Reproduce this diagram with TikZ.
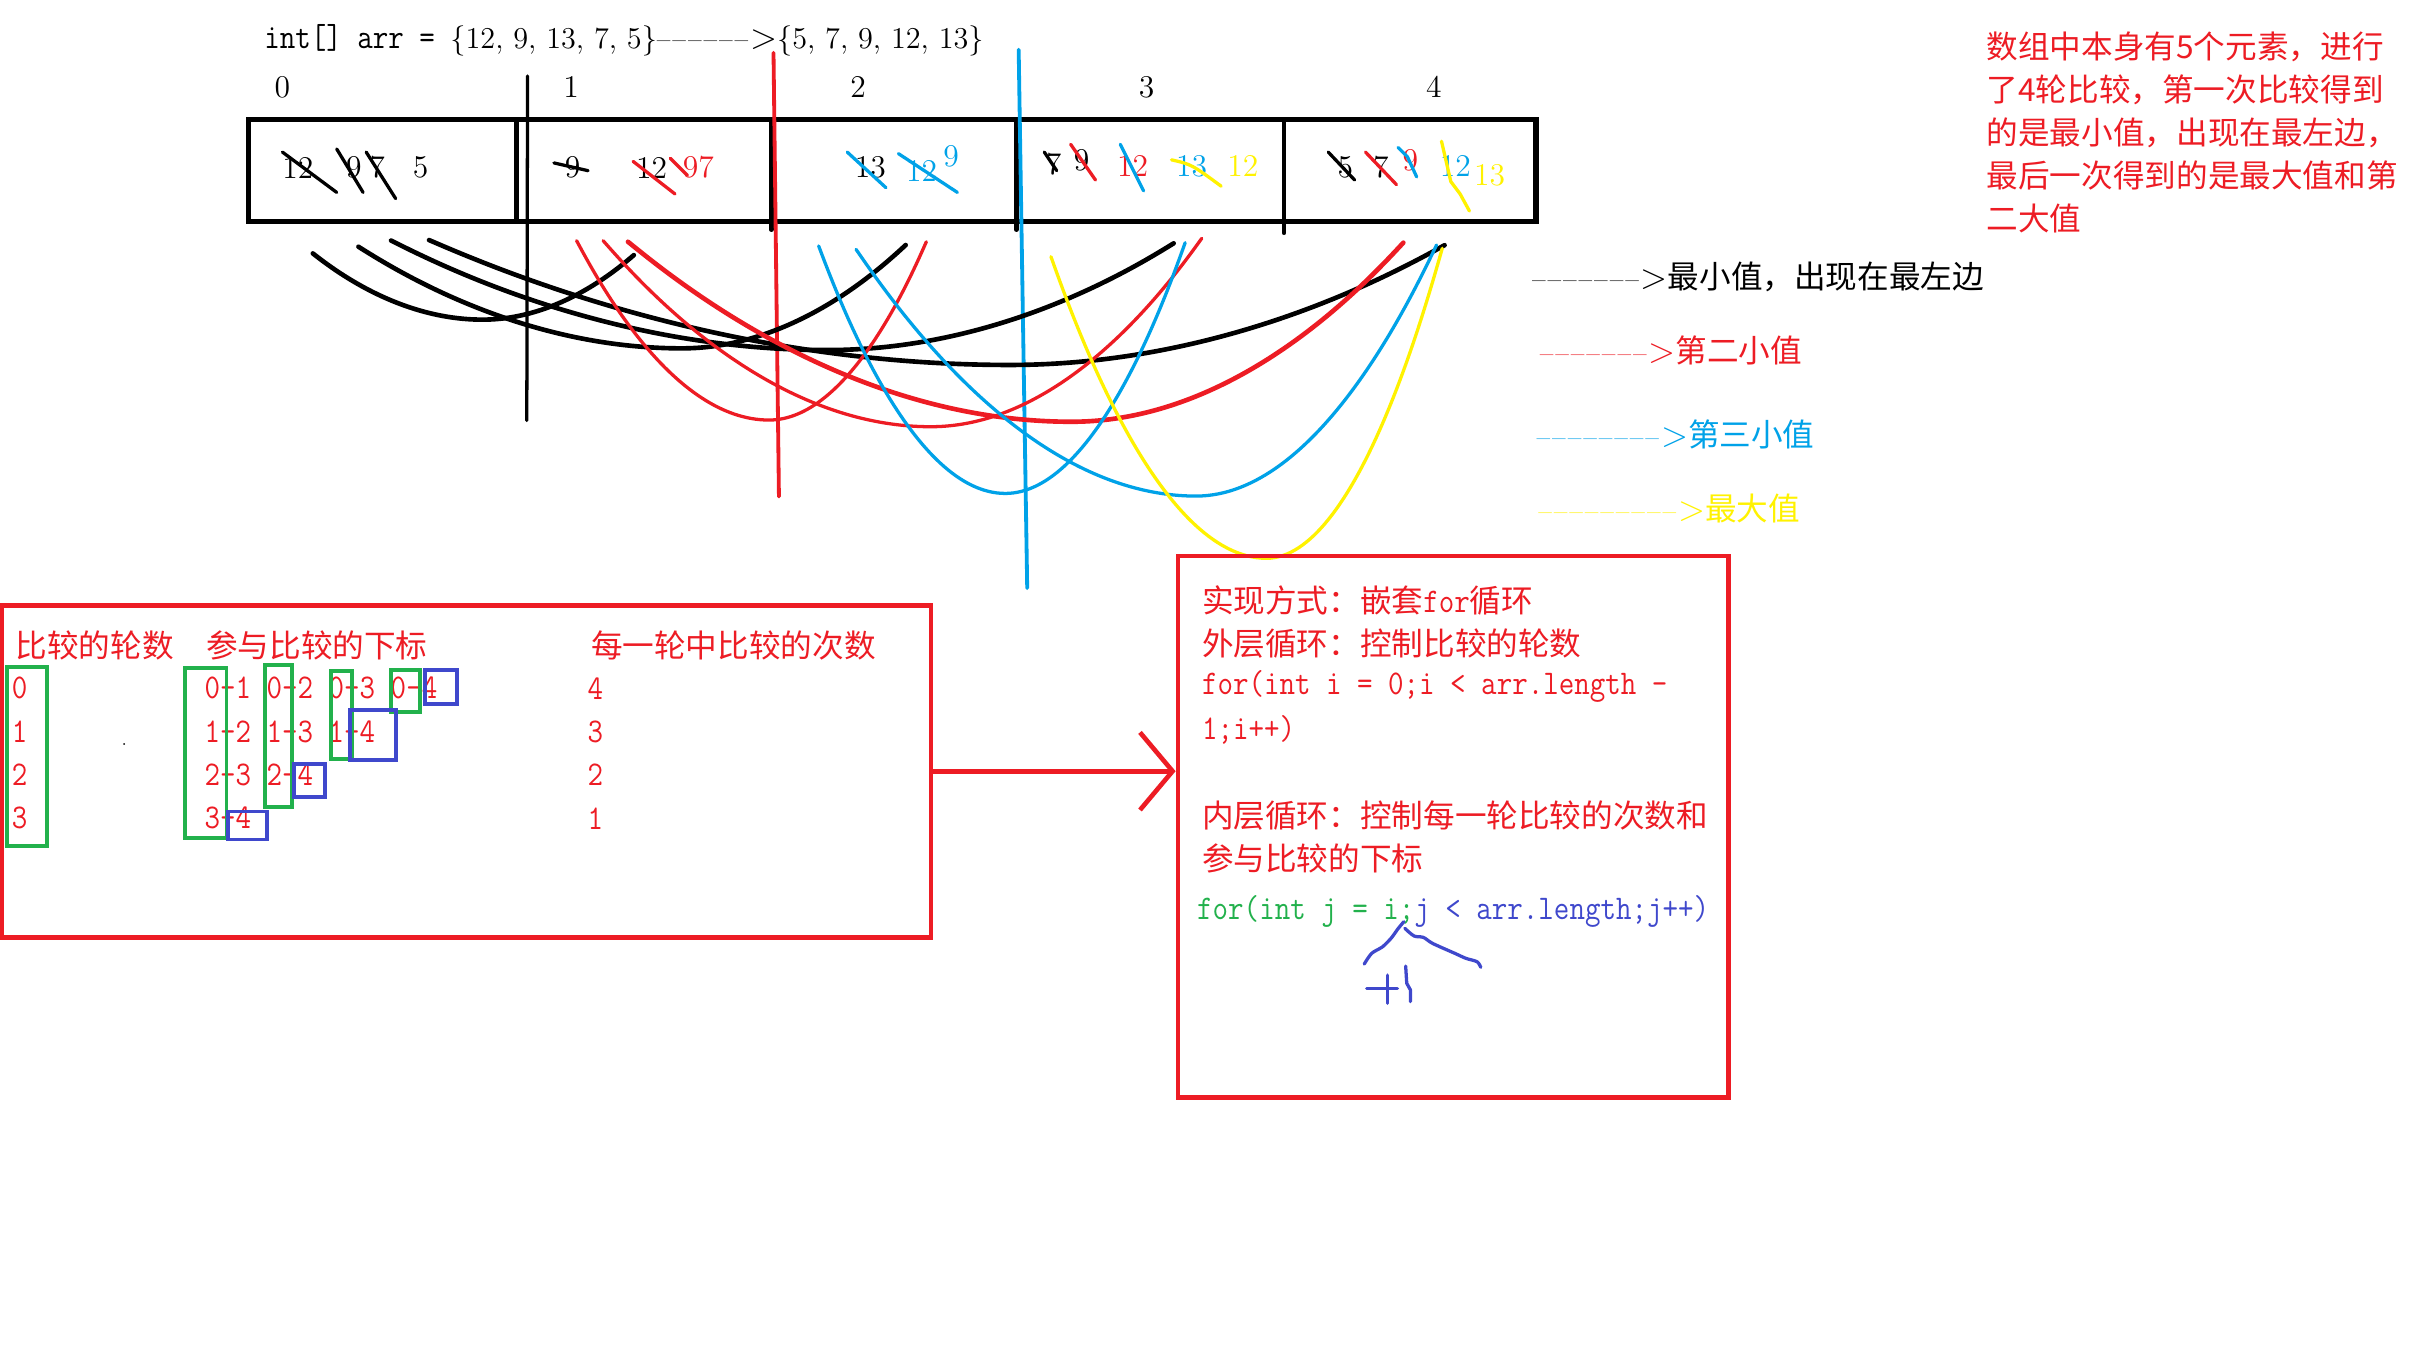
\documentclass[tikz,border=0pt]{standalone}
\usepackage{fontspec}
\usepackage{tikz}
\usetikzlibrary{arrows.meta, positioning, calc}
\newfontfamily\zhfont{Noto Sans CJK SC}
\newfontfamily\codefont[FakeStretch=0.87]{Latin Modern Mono}
\definecolor{paintred}{HTML}{ED1C24}
\definecolor{paintblue}{HTML}{00A2E8}
\definecolor{paintyellow}{HTML}{FFF200}
\definecolor{paintgreen}{HTML}{22B14C}
\definecolor{paintindigo}{HTML}{3F48CC}
\newcommand\zhsize{\fontsize{11.6}{15.8}\selectfont}
\newcommand\asc[1]{{\codefont\fontsize{12.7}{15.8}\selectfont #1}}
\newcommand\dashrun[1]{{\rmfamily\fontsize{10}{12}\selectfont\foreach\k in {1,...,#1}{--\kern0.7pt}\fontsize{13}{13}\selectfont>}}

\begin{document}
\begin{tikzpicture}[
    x=0.02cm, y=-0.02cm,
    txt/.style={inner sep=0pt, font=\fontsize{11.6}{14}\selectfont},
    zh/.style={inner sep=0pt, anchor=west, font=\zhfont\zhsize},
    ttline/.style={inner sep=0pt, anchor=west, font=\codefont\fontsize{12.7}{15.8}\selectfont},
    pen/.style={line width=1.2pt, line cap=round, line join=round},
    fatpen/.style={line width=1.7pt, line cap=round, line join=round},
    redframe/.style={draw=paintred, line width=1.7pt, inner sep=0pt},
    greenbox/.style={draw=paintgreen, line width=1.4pt},
    bluebox/.style={draw=paintindigo, line width=1.4pt},
]
\path[use as bounding box, fill=white] (0,0) rectangle (1568,873);

% array and its indices
\node[txt, anchor=west, font=\fontsize{11.1}{14}\selectfont] (title) at (170,26) {\asc{int[] arr = }\{12, 9, 13, 7, 5\}\dashrun{6}\{5, 7, 9, 12, 13\}};
\foreach \i/\x in {0/182,1/368,2/553,3/739,4/924}
    \node[txt] (idx\i) at (\x,56) {\i};
\node[draw, line width=1.9pt, minimum width=16.6cm, minimum height=1.32cm, inner sep=0pt] (arrbox) at (575,110) {};
\draw[fatpen] (333,79) -- (333,142);
\draw[fatpen] (497,78) -- (497,148);
\draw[fatpen] (655,78) -- (655,148);
\draw[fatpen] (827.5,78) -- (827.5,150);
\draw[pen] (340,49) -- (339.5,271);
\draw[pen, paintred, line width=1.4pt] (498.5,34) -- (502,320);
\draw[pen, paintblue, line width=1.4pt] (656.5,32) -- (662,379);

% cell 0
\node[txt] (c0a) at (192,108) {12};
\node[txt] (c0b) at (228,108) {9};
\node[txt] (c0c) at (243,108) {7};
\node[txt] (c0d) at (271,108) {5};
\draw[pen] (182,98) -- (217,124);
\draw[pen] (217,96) -- (234,124);
\draw[pen] (236,98) -- (255,128);
% cell 1
\node[txt] (c1a) at (369,108) {9};
\node[txt] (c1b) at (420,108) {12};
\node[txt, paintred] (c1c) at (450,108) {97};
\draw[pen] (357,105) -- (379,110);
\draw[pen, paintred] (408,104) -- (435,125);
\draw[pen, paintred] (432,102) -- (443,113);
% cell 2
\node[txt] (c2a) at (561,108) {13};
\node[txt, paintblue] (c2b) at (594,110) {12};
\node[txt, paintblue] (c2c) at (613,101) {9};
\draw[pen, paintblue] (546,98) -- (571,121);
\draw[pen, paintblue] (579,99) -- (617,124);
% cell 3
\node[txt] (c3a) at (679,106) {7};
\node[txt] (c3b) at (697,103) {9};
\node[txt, paintred] (c3c) at (730,107) {12};
\node[txt, paintblue] (c3d) at (768,107) {13};
\node[txt, paintyellow] (c3e) at (801,107) {12};
\draw[pen] (673,98) -- (681,110);
\draw[pen, paintred] (690,93) -- (706,116);
\draw[pen, paintblue] (722,93) -- (737,123);
\draw[pen, paintyellow] (755,103) .. controls (768,106) .. (787,120);
% cell 4
\node[txt] (c4a) at (867,108) {5};
\node[txt] (c4b) at (890,108) {7};
\node[txt, paintred] (c4c) at (909,103) {9};
\node[txt, paintblue] (c4d) at (938,107) {12};
\node[txt, paintyellow] (c4e) at (960,113) {13};
\draw[pen] (856,98) -- (873,116);
\draw[pen, paintred] (880,98) -- (900,119);
\draw[pen, paintblue] (901,95) -- (907,101) -- (913,114);
\draw[pen, paintyellow] (929,91) -- (935,117) -- (941,125) -- (947,136);

% comparison arcs
\draw[fatpen] (201.6,163.3) parabola bend (311,206) (408.5,164.4);
\draw[fatpen] (231,159) parabola bend (439.5,224.5) (583.7,157.9);
\draw[fatpen] (252,155) parabola bend (533,225.6) (756.4,156.8);
\draw[fatpen] (276.5,154.7) parabola bend (650.6,235.2) (931,158);
\draw[pen, paintred] (371.6,155.1) parabola bend (495.6,270.7) (597,155.8);
\draw[pen, paintred] (388.7,155.1) parabola bend (599.8,275) (774.5,153.6);
\draw[fatpen, paintred] (404.7,155.8) parabola bend (690.6,271.8) (904.4,156.4);
\draw[pen, paintblue] (527.6,158.5) parabola bend (647.9,318) (763.8,156.4);
\draw[pen, paintblue] (551.7,160.7) parabola bend (770.8,319.7) (925.8,157.9);
\draw[pen, paintyellow] (677.3,165.4) parabola bend (816.2,359.8) (929.5,160);

% legend and note
\node[zh] (lg1) at (987,178.5) {\dashrun{7}最小值，出现在最左边};
\node[zh, paintred] (lg2) at (992,225.6) {\dashrun{7}第二小值};
\node[zh, paintblue] (lg3) at (990,280) {\dashrun{8}第三小值};
\node[zh, paintyellow] (lg4) at (991,327.5) {\dashrun{9}最大值};
\node[zh, paintred, anchor=north west, align=left] (note) at (1280,20)
    {数组中本身有5个元素，进行\\了4轮比较，第一次比较得到\\的是最小值，出现在最左边，\\最后一次得到的是最大值和第\\二大值};

% table of rounds
\node[redframe, minimum width=11.98cm, minimum height=4.28cm] (tbl) at (300.5,497) {};
\node[zh, paintred] (h1) at (9.7,415.7) {比较的轮数};
\node[zh, paintred] (h2) at (132.5,415.7) {参与比较的下标};
\node[zh, paintred] (h3) at (380.6,415.7) {每一轮中比较的次数};
\foreach \r/\y/\s/\n in {0/443.6/{0-1 0-2 0-3 0-4}/4, 1/471.5/{1-2 1-3 1-4}/3, 2/499.5/{2-3 2-4}/2, 3/527.4/{3-4}/1} {
    \node[ttline, paintred, anchor=center] (rd\r) at (12.7,\y) {\r};
    \node[ttline, paintred] (pr\r) at (131.5,\y) {\s};
    \node[ttline, paintred, anchor=center] (ct\r) at (383.7,\y) {\n};
}
\fill (80,479.5) circle (0.6);
\draw[greenbox] (4.6,429.7) rectangle (30.1,545.2);
\draw[greenbox] (119,430.7) rectangle (146,540.3);
\draw[greenbox] (170.8,428.6) rectangle (188.2,519.9);
\draw[greenbox] (213.3,432.2) rectangle (226.8,489.4);
\draw[greenbox] (252,431.8) rectangle (270.5,458.7);
\draw[bluebox] (274,431.8) rectangle (294.4,453.7);
\draw[bluebox] (225.7,457.6) rectangle (255,489.8);
\draw[bluebox] (189.3,492.4) rectangle (209.4,513.4);
\draw[bluebox] (147.2,523) rectangle (172,541);

% nested loops
\node[redframe, minimum width=7.1cm, minimum height=6.98cm] (code) at (936.6,532.8) {};
\draw[fatpen, paintred, -{Straight Barb[length=4.2mm, width=10mm]}] (tbl.east) -- (tbl.east -| code.west);
\node[zh, paintred] (l1) at (774.3,386.7) {实现方式：嵌套\asc{for}循环};
\node[zh, paintred] (l2) at (774.3,414.6) {外层循环：控制比较的轮数};
\node[ttline, paintred] (l3) at (774.3,442.6) {for(int i = 0;i < arr.length -};
\node[ttline, paintred] (l4) at (774.3,470.5) {1;i++)};
\node[zh, paintred] (l5) at (774.3,525.3) {内层循环：控制每一轮比较的次数和};
\node[zh, paintred] (l6) at (774.3,553.2) {参与比较的下标};
\node[ttline] (l7) at (771.2,587.5) {\textcolor{paintgreen}{for(int j = i;}\textcolor{paintindigo}{j < arr.length;j++)}};
\draw[pen, paintindigo] plot[smooth] coordinates {(879.2,621.3) (884,614.4) (891.1,610.1) (897,604.1) (900.6,599) (904.7,594)};
\draw[pen, paintindigo] plot[smooth] coordinates {(905.4,598.3) (911.3,603.2) (917.3,604.1) (923.3,608) (937.6,614.4) (944.7,617.6) (951.9,619.8) (954.3,623.4)};
\draw[pen, paintindigo] (880.8,637) -- (900.6,637);
\draw[pen, paintindigo] (894,628.4) -- (894,646.6);
\draw[pen, paintindigo] (905.9,622.6) -- (906.6,633.7) -- (909,638) -- (909,645.5);

\end{tikzpicture}
\end{document}
